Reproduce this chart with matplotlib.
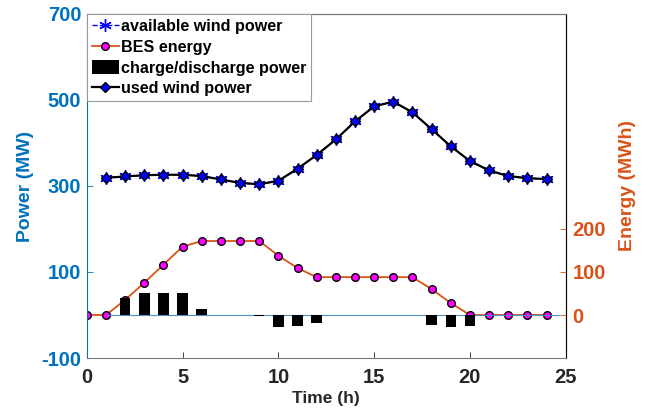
import matplotlib
matplotlib.use('Agg')
import matplotlib.pyplot as plt
import numpy as np

plt.rcParams['font.family'] = ['Liberation Sans', 'DejaVu Sans']
plt.rcParams['font.weight'] = 'bold'
plt.rcParams['axes.unicode_minus'] = False

# hourly data
hours = list(range(0, 25))
wind_hours = list(range(1, 25))
avail_wind = [319, 322, 325, 326, 326, 323, 315, 307, 304, 312, 340, 372,
              408, 450, 485, 496, 471, 432, 392, 358, 336, 323, 318, 316]
used_wind = list(avail_wind)
bes_energy = [0, 0, 35, 75, 117, 159, 172, 172, 172, 172, 138, 109, 88,
              88, 88, 88, 88, 88, 60, 28, 0, 0, 0, 0, 0]
charge_power = [0, 0, 39, 50, 50, 50, 14, 0, 0, -2, -29, -26, -19,
                0, 0, 0, 0, 0, -23, -29, -25, 0, 0, 0, 0]

blue = '#0072BD'
orange = '#D95319'

fig = plt.figure(figsize=(6.48, 4.08), dpi=100)
ax = fig.add_axes([0.134, 0.1225, 0.739, 0.8435])
ax2 = ax.twinx()

# bars + baseline on the left axis
ax.hlines(0, hours[1], hours[-1] + 0.7, color='#4a90c8', lw=0.8, zorder=1)
h_bar = ax.bar(hours, charge_power, width=0.55, color='black', zorder=2,
               label='charge/discharge power')

h_av, = ax.plot(wind_hours, avail_wind, '--', color='blue', marker=(6, 2, 0),
                ms=9, mec='blue', mew=1, lw=1, zorder=4,
                label='available wind power')
h_used, = ax.plot(wind_hours, used_wind, '-', color='black', marker='D',
                  ms=5, mfc='blue', mec='black', mew=1, lw=1.6, zorder=5,
                  label='used wind power')

h_bes, = ax2.plot(hours, bes_energy, '-', color=orange, marker='o', ms=5.5,
                  mfc='magenta', mec='black', mew=1, lw=1.3, zorder=6,
                  label='BES energy')

ax.set_xlim(0, 25)
ax.set_ylim(-100, 700)
ax2.set_ylim(-100, 700)
ax.set_xticks([0, 5, 10, 15, 20, 25])
ax.set_yticks([-100, 100, 300, 500, 700])
ax2.set_yticks([0, 100, 200])

ax.tick_params(axis='x', direction='in', labelsize=14.5, colors='#262626',
               length=4, width=0.6, top=False, pad=7)
ax.tick_params(axis='y', direction='in', labelsize=14.5, colors=blue,
               length=4, width=0.6, pad=4)
ax2.tick_params(axis='y', direction='in', labelsize=14.5, colors=orange,
                length=4, width=0.6, pad=5)
for lab in ax.get_xticklabels() + ax.get_yticklabels() + ax2.get_yticklabels():
    lab.set_fontweight('bold')

ax.spines['left'].set_color(blue)
ax.spines['bottom'].set_color('#7a7a7a')
ax.spines['top'].set_color('#7a7a7a')
ax2.spines['right'].set_color(orange)
ax2.spines['left'].set_visible(False)
ax2.spines['top'].set_color('#7a7a7a')
ax2.spines['bottom'].set_visible(False)
for sp in ax.spines.values():
    sp.set_linewidth(0.8)
for sp in ax2.spines.values():
    sp.set_linewidth(0.8)

ax.set_xlabel('Time (h)', fontsize=12.5, fontweight='bold', color='#262626',
              labelpad=3)
ax.set_ylabel('Power (MW)', fontsize=14, fontweight='bold', color=blue,
              labelpad=5)
ax2.set_ylabel('Energy (MWh)', fontsize=14, fontweight='bold', color=orange,
               labelpad=9)

ax.set_zorder(ax2.get_zorder() + 1)
ax.patch.set_visible(False)

leg = ax.legend([h_av, h_bes, h_bar, h_used],
                ['available wind power', 'BES energy',
                 'charge/discharge power', 'used wind power'],
                loc='upper left', borderaxespad=0, fancybox=False,
                framealpha=1, edgecolor='#9a9a9a', handlelength=1.7,
                handleheight=1.0, handletextpad=0.12, labelspacing=0.3,
                borderpad=0.3, prop={'size': 11.6, 'weight': 'bold'})
leg.get_frame().set_linewidth(0.8)

fig.savefig('out.png', dpi=100)
